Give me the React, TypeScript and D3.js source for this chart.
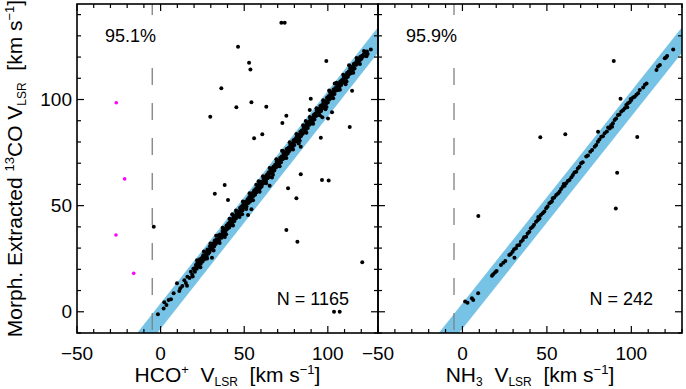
import React from "react";
import * as d3 from "d3";

type Pt = [number, number];

// HCO+ panel: sources following the 1:1 relation
const hcoLine: Pt[] = [
  [-1.6, -1.2], [1.8, 1.6], [2.2, 4.5], [3.5, 3.2], [4.8, 5.6], [6.2, 5.9], [7.8, 8.7], [9.8, 13.4],
  [11.2, 9.8], [11.8, 11.1], [13.0, 12.1], [14.2, 14.8], [15.1, 13.6], [15.8, 12.3], [16.0, 16.5],
  [17.3, 15.9], [18.1, 18.8], [18.9, 17.4], [19.6, 20.3], [20.0, 20.4], [20.5, 18.9], [21.1, 22.0],
  [21.6, 20.3], [22.0, 23.1], [22.6, 21.5], [23.1, 22.4], [23.5, 24.8], [24.0, 22.6], [24.6, 25.3],
  [25.1, 23.7], [25.5, 26.6], [26.0, 25.1], [26.6, 24.9], [27.1, 28.0], [27.5, 26.2], [28.0, 29.3],
  [28.6, 27.4], [29.1, 28.0], [29.5, 30.9], [30.0, 29.2], [30.4, 31.6], [31.0, 29.5], [31.5, 32.3],
  [32.0, 30.8], [32.4, 33.6], [33.0, 31.9], [33.5, 34.2], [34.0, 33.1], [34.4, 35.9], [35.0, 33.6],
  [35.5, 36.4], [36.0, 35.2], [36.5, 34.9], [37.0, 38.1], [37.4, 36.3], [38.0, 39.2], [38.5, 37.0],
  [39.0, 38.4], [39.4, 40.7], [40.0, 39.1], [40.5, 41.6], [41.0, 39.7], [41.5, 42.3], [42.0, 40.8],
  [42.4, 43.5], [43.0, 42.2], [43.5, 44.6], [44.0, 42.7], [44.5, 45.4], [45.0, 43.9], [45.4, 46.8],
  [46.0, 45.0], [46.5, 47.2], [47.0, 45.6], [47.5, 48.9], [48.0, 47.1], [48.4, 49.6], [49.0, 47.8],
  [49.5, 50.7], [50.0, 49.2], [50.5, 51.8], [51.0, 50.1], [51.4, 49.6], [52.0, 53.0], [52.5, 51.2],
  [53.0, 54.1], [53.5, 52.0], [54.0, 55.3], [54.4, 53.1], [55.0, 56.0], [55.5, 54.6], [56.0, 57.2],
  [56.5, 55.1], [57.0, 58.0], [57.4, 56.3], [58.0, 59.4], [58.5, 57.2], [59.0, 60.1], [59.5, 58.3],
  [60.0, 61.2], [60.4, 59.0], [61.0, 60.3], [61.5, 62.7], [62.0, 60.8], [62.5, 63.5], [63.0, 61.6],
  [63.4, 64.4], [64.0, 62.9], [64.5, 65.6], [65.0, 63.5], [65.5, 66.2], [66.0, 65.1], [66.4, 67.5],
  [67.0, 65.8], [67.5, 68.4], [68.0, 66.6], [68.5, 69.3], [69.0, 68.0], [69.4, 70.6], [70.0, 68.7],
  [70.5, 71.3], [71.0, 69.9], [71.5, 72.6], [72.0, 70.4], [72.4, 73.2], [73.0, 71.8], [73.5, 74.6],
  [74.0, 72.5], [74.5, 75.2], [75.0, 74.0], [75.4, 76.7], [76.0, 74.6], [76.5, 77.3], [77.0, 75.8],
  [77.5, 78.6], [78.0, 76.7], [78.4, 79.3], [79.0, 77.9], [79.5, 80.8], [80.0, 78.6], [80.5, 81.4],
  [81.0, 80.2], [81.4, 82.6], [82.0, 80.5], [82.5, 83.3], [83.0, 82.1], [83.5, 84.7], [84.0, 82.8],
  [84.4, 85.4], [85.0, 83.9], [85.5, 86.6], [86.0, 84.7], [86.5, 87.5], [87.0, 86.0], [87.4, 88.7],
  [88.0, 86.6], [88.5, 89.4], [89.0, 88.1], [89.5, 90.8], [90.0, 88.7], [90.4, 91.3], [91.0, 90.0],
  [91.5, 92.7], [92.0, 90.6], [92.5, 93.4], [93.0, 92.2], [93.4, 94.8], [94.0, 92.7], [94.5, 95.5],
  [95.0, 94.1], [95.5, 96.9], [96.0, 94.6], [96.5, 97.4], [97.0, 96.0], [97.4, 98.6], [98.0, 96.7],
  [98.5, 99.3], [99.0, 98.1], [99.5, 100.8], [100.0, 98.6], [100.4, 101.5], [101.0, 100.0],
  [101.5, 102.6], [102.0, 100.8], [102.5, 103.3], [103.0, 102.1], [103.4, 104.7], [104.0, 102.6],
  [104.5, 105.4], [105.0, 104.2], [105.5, 106.8], [106.0, 104.5], [106.5, 107.3], [107.0, 106.0],
  [107.4, 108.5], [108.0, 106.8], [108.5, 109.2], [109.0, 108.1], [109.5, 110.6], [110.0, 108.5],
  [110.4, 111.3], [111.0, 110.1], [111.5, 112.5], [112.0, 110.7], [112.5, 113.2], [113.0, 112.0],
  [113.4, 114.6], [114.0, 112.5], [114.5, 115.3], [115.0, 114.1], [115.5, 116.7], [116.0, 114.6],
  [116.5, 117.2], [117.0, 116.4], [117.4, 118.5], [118.0, 117.1], [118.5, 119.3], [119.0, 118.4],
  [119.5, 120.2], [120.0, 119.1], [120.5, 120.6], [121.0, 120.3], [121.5, 121.2], [122.0, 120.9],
  [125.7, 123.6], [40.3, 52.7], [52.3, 45.6], [54.3, 48.3], [65.2, 59.4], [96.7, 91.6], [100.1, 91.1],
  [102.5, 94.0], [89.2, 95.1], [104.1, 107.6], [30.7, 25.5]
];

// HCO+ panel: the wider spread of the same relation
const hcoSpread: Pt[] = [
  [19.2, 16.6], [21.8, 24.3], [23.8, 21.0], [25.9, 28.4], [27.8, 25.1], [29.8, 32.2], [31.7, 28.9],
  [33.2, 35.8], [35.3, 32.4], [37.1, 39.6], [39.2, 36.5], [41.2, 43.8], [43.3, 40.7], [45.1, 47.7],
  [47.2, 44.6], [49.2, 51.9], [51.2, 48.4], [53.2, 55.8], [55.3, 52.6], [57.2, 59.9], [59.2, 56.5],
  [61.2, 63.8], [63.1, 60.6], [65.2, 67.7], [67.2, 64.5], [69.2, 71.8], [71.2, 68.6], [73.2, 75.7],
  [75.2, 72.4], [77.2, 79.9], [79.2, 76.5], [81.2, 83.8], [83.2, 80.6], [85.2, 87.9], [87.2, 84.4],
  [89.2, 91.8], [91.2, 88.6], [93.2, 95.9], [95.2, 92.6], [97.2, 99.7], [99.2, 96.5], [101.2, 103.8],
  [103.2, 100.6], [105.2, 107.9], [107.2, 104.6], [109.2, 111.7], [111.2, 108.5], [113.2, 115.8],
  [115.2, 112.6], [117.2, 119.6], [119.2, 116.7], [121.6, 122.9], [122.6, 121.8], [123.1, 120.4],
  [42.8, 46.0], [58.6, 61.5], [72.6, 75.9], [86.8, 89.9], [100.8, 104.2], [112.7, 116.1],
  [48.8, 45.9], [66.6, 63.3], [82.6, 79.3], [98.6, 95.4], [110.6, 107.2], [38.4, 35.2]
];

// HCO+ panel: the crowded core of the relation
const hcoCore: Pt[] = [
  [20.3, 20.0], [21.3, 21.1], [22.3, 21.8], [23.3, 23.6], [24.3, 23.9], [25.3, 25.0], [26.3, 26.4],
  [27.3, 26.8], [28.3, 28.2], [29.3, 29.5], [30.3, 29.9], [31.3, 31.0], [32.2, 32.4], [33.3, 32.8],
  [34.3, 34.1], [35.3, 35.4], [36.3, 35.8], [37.3, 37.2], [38.3, 38.3], [39.3, 38.9], [40.3, 40.2],
  [41.3, 41.4], [42.3, 41.7], [43.3, 43.1], [44.3, 44.3], [45.3, 44.8], [46.3, 46.2], [47.3, 47.4],
  [48.3, 47.7], [49.3, 49.1], [50.3, 50.4], [51.3, 50.8], [52.3, 52.2], [53.3, 53.3], [54.3, 53.8],
  [55.3, 55.2], [56.3, 56.4], [57.3, 56.8], [58.3, 58.1], [59.3, 59.3], [60.3, 59.8], [61.3, 61.2],
  [62.3, 62.4], [63.3, 62.7], [64.3, 64.2], [65.3, 65.3], [66.3, 65.8], [67.3, 67.1], [68.3, 68.4],
  [69.3, 68.8], [70.3, 70.2], [71.3, 71.3], [72.3, 71.7], [73.3, 73.2], [74.3, 74.4], [75.3, 74.8],
  [76.3, 76.1], [77.3, 77.3], [78.3, 77.8], [79.3, 79.2], [80.3, 80.4], [81.3, 80.7], [82.3, 82.1],
  [83.3, 83.4], [84.3, 83.8], [85.3, 85.2], [86.3, 86.3], [87.3, 86.7], [88.3, 88.2], [89.3, 89.4],
  [90.3, 89.8], [91.3, 91.1], [92.3, 92.3], [93.3, 92.8], [94.3, 94.2], [95.3, 95.4], [96.3, 95.7],
  [97.3, 97.1], [98.3, 98.3], [99.3, 98.8], [100.3, 100.2], [101.3, 101.4], [102.3, 101.7],
  [103.3, 103.1], [104.3, 104.3], [105.3, 104.8], [106.3, 106.2], [107.3, 107.3], [108.3, 107.7],
  [109.3, 109.1], [110.3, 110.4], [111.3, 110.8], [112.3, 112.2], [113.3, 113.3], [114.3, 113.7],
  [115.3, 115.1], [116.3, 116.4], [117.3, 116.8], [118.3, 118.2], [119.3, 119.3], [120.3, 119.7],
  [121.3, 121.0], [122.4, 122.1], [123.4, 122.6], [123.8, 121.4]
];

// HCO+ panel: sources off the relation
const hcoOff: Pt[] = [
  [36.3, 105.3], [29.7, 91.9], [72.2, 136.2], [74.2, 136.2], [46.3, 124.9], [52.9, 117.3],
  [53.7, 114.2], [99.1, 118.1], [89.8, 100.4], [114.5, 104.1], [45.3, 96.3], [54.3, 98.7],
  [63.2, 96.6], [75.2, 92.4], [72.8, 88.9], [55.9, 81.7], [60.8, 83.6], [83.8, 77.8], [95.8, 82.0],
  [113.1, 87.0], [-4.1, 40.1], [38.3, 59.7], [32.4, 55.6], [83.8, 64.8], [96.5, 62.1],
  [100.5, 61.8], [76.2, 58.2], [81.2, 53.5], [75.2, 38.5], [81.8, 33.0], [120.6, 23.3],
  [103.7, 0], [107.1, 0]
];

const hcoMagenta: Pt[] = [[-26.5, 98.5], [-21.5, 62.6], [-26.7, 36.2], [-16.1, 18.1]];

// NH3 panel
const nh3Line: Pt[] = [
  [1.6, 4.8], [3.0, 4.2], [5.6, 6.4], [6.4, 5.6], [9.3, 8.7], [17.5, 17.0], [18.2, 17.7],
  [19.4, 18.6], [20.2, 19.2], [22.8, 22.0], [24.2, 23.1], [25.4, 23.9], [27.7, 26.8], [28.6, 27.2],
  [29.7, 28.3], [30.6, 29.4], [31.7, 29.9], [32.5, 31.2], [33.7, 31.5], [34.6, 33.0], [35.7, 33.8],
  [36.5, 35.1], [37.7, 35.4], [38.6, 36.9], [39.6, 37.7], [40.5, 39.4], [41.6, 40.1], [42.4, 41.0],
  [43.6, 42.4], [44.5, 43.1], [45.6, 44.0], [46.4, 45.6], [47.5, 46.4], [48.5, 47.3], [49.6, 48.8],
  [50.4, 49.6], [51.5, 51.1], [52.4, 51.6], [53.5, 53.5], [54.4, 53.8], [55.5, 55.0], [56.6, 55.7],
  [57.5, 56.6], [58.4, 57.9], [59.4, 58.9], [60.5, 59.4], [61.4, 60.5], [62.4, 61.6], [63.4, 62.1],
  [64.5, 63.4], [65.4, 64.4], [66.3, 65.6], [67.4, 66.0], [68.3, 67.5], [69.3, 68.3], [70.3, 70.0],
  [71.2, 70.4], [73.3, 73.1], [74.3, 73.6], [75.7, 75.4], [76.8, 76.2], [78.3, 77.8], [79.2, 78.6],
  [80.2, 80.1], [81.1, 81.2], [82.2, 82.5], [83.2, 82.7], [84.2, 84.1], [85.5, 84.9], [87.2, 86.4],
  [88.1, 87.9], [89.1, 88.8], [90.1, 90.3], [91.0, 91.0], [92.1, 92.7], [93.0, 92.9], [94.1, 94.3],
  [95.1, 95.0], [96.1, 95.9], [97.0, 97.4], [98.0, 98.2], [99.0, 98.7], [100.0, 99.8],
  [101.0, 100.9], [102.0, 101.3], [103.0, 102.3], [104.0, 102.9], [105.0, 104.5], [107.0, 105.7],
  [108.0, 106.9], [109.0, 107.6], [114.9, 113.9], [115.8, 115.5], [116.9, 116.3], [119.8, 119.4],
  [120.5, 119.8], [121.2, 120.5], [124.8, 123.6], [30.8, 25.5], [80.3, 84.8],
  [44.9, 44.6], [53.0, 52.1], [60.0, 60.2], [86.3, 86.8], [88.6, 87.2], [97.6, 96.4], [99.6, 100.3]
];

const nh3Off: Pt[] = [
  [89.6, 118.1], [93.6, 100.4], [46.1, 82.2], [60.9, 83.6], [103.5, 82.3], [9.4, 45.1],
  [91.6, 65.5], [90.8, 48.7]
];

const xDomain: [number, number] = [-50, 130];
const yDomain: [number, number] = [-10, 145];
const bandOffset = -2;
const bandHalf = 6;
const cutVel = -5;

const FONT = "'Liberation Sans', Arial, Helvetica, sans-serif";
const BAND = "#77c3e6";
const TOP = 4;
const BOTTOM = 333;

const y = d3.scaleLinear().domain(yDomain).range([BOTTOM, TOP]);

interface PanelProps {
  id: string;
  x0: number;
  x1: number;
  line: Pt[];
  off: Pt[];
  magenta: Pt[];
  pct: string;
  count: string;
  leftLabels: boolean;
}

const Panel = ({ id, x0, x1, line, off, magenta, pct, count, leftLabels }: PanelProps) => {
  const x = d3.scaleLinear().domain(xDomain).range([x0, x1]);
  const band: Pt[] = [
    [xDomain[0], xDomain[0] + bandOffset - bandHalf],
    [xDomain[1], xDomain[1] + bandOffset - bandHalf],
    [xDomain[1], xDomain[1] + bandOffset + bandHalf],
    [xDomain[0], xDomain[0] + bandOffset + bandHalf]
  ];
  const bandPath = d3.line<Pt>().x(d => x(d[0])).y(d => y(d[1]))(band) + "Z";
  const xMajor = x.ticks(4);
  const xMinor = x.ticks(18).filter(t => !xMajor.includes(t));
  const yMajor = y.ticks(3);
  const yMinor = y.ticks(15).filter(t => !yMajor.includes(t));
  const maj = 7, min = 4;
  const dx = x(cutVel);

  return (
    <g>
      <defs>
        <clipPath id={id}>
          <rect x={x0} y={TOP} width={x1 - x0} height={BOTTOM - TOP} />
        </clipPath>
      </defs>
      <path d={bandPath} fill={BAND} clipPath={`url(#${id})`} />
      <line x1={dx} x2={dx} y1={TOP} y2={BOTTOM} stroke="#808080" strokeWidth={1.3}
        strokeDasharray="17 18" strokeDashoffset={6} />
      <rect x={x0 + 26} y={24} width={56} height={28} fill="#fff" />
      <text x={x0 + 28} y={42} fontSize={18}>{pct}</text>
      {line.concat(off).map((d, i) => (
        <circle key={i} cx={x(d[0])} cy={y(d[1])} r={2} fill="#000" />
      ))}
      {magenta.map((d, i) => (
        <circle key={"m" + i} cx={x(d[0])} cy={y(d[1])} r={1.8} fill="#f0f" />
      ))}
      <text x={x1 - 29} y={305} fontSize={18} textAnchor="end">{count}</text>
      <rect x={x0} y={TOP} width={x1 - x0} height={BOTTOM - TOP} fill="none" stroke="#000" strokeWidth={1.6} />
      {xMajor.concat(xMinor).map((t, i) => {
        const l = xMajor.includes(t) ? maj : min;
        return (
          <g key={"x" + i} stroke="#000" strokeWidth={1.2}>
            <line x1={x(t)} x2={x(t)} y1={BOTTOM} y2={BOTTOM - l} />
            <line x1={x(t)} x2={x(t)} y1={TOP} y2={TOP + l} />
          </g>
        );
      })}
      {yMajor.concat(yMinor).map((t, i) => {
        const l = yMajor.includes(t) ? maj : min;
        return (
          <g key={"y" + i} stroke="#000" strokeWidth={1.2}>
            <line x1={x0} x2={x0 + l} y1={y(t)} y2={y(t)} />
            <line x1={x1} x2={x1 - l} y1={y(t)} y2={y(t)} />
          </g>
        );
      })}
      {xMajor.map(t => (
        <text key={"xl" + t} x={x(t)} y={360} fontSize={19} textAnchor="middle">
          {t < 0 ? "\u2212" + Math.abs(t) : t}
        </text>
      ))}
      {leftLabels && yMajor.map(t => (
        <text key={"yl" + t} x={x0 - 5} y={y(t)} dy="0.35em" fontSize={19} textAnchor="end">{t}</text>
      ))}
    </g>
  );
};

export default function App() {
  return (
    <svg width={686} height={389} style={{ position: "absolute", left: 0, top: 0, background: "#fff" }}
      fontFamily={FONT}>
      <Panel id="cl" x0={77} x1={378} line={hcoLine.concat(hcoSpread, hcoCore)} off={hcoOff}
        magenta={hcoMagenta} pct="95.1%" count="N = 1165" leftLabels={true} />
      <Panel id="cr" x0={378} x1={682} line={nh3Line} off={nh3Off} magenta={[]}
        pct="95.9%" count="N = 242" leftLabels={false} />

      <text x={227.5} y={382} fontSize={21} textAnchor="middle" style={{ whiteSpace: "pre" }}>
        <tspan>HCO</tspan>
        <tspan fontSize={13} dy={-8}>+</tspan>
        <tspan dy={8}>{"  V"}</tspan>
        <tspan fontSize={12} dy={4}>LSR</tspan>
        <tspan dy={-4}>{"  [km s"}</tspan>
        <tspan fontSize={13} dy={-8}>{"\u22121"}</tspan>
        <tspan dy={8}>]</tspan>
      </text>
      <text x={530} y={382} fontSize={21} textAnchor="middle" style={{ whiteSpace: "pre" }}>
        <tspan>NH</tspan>
        <tspan fontSize={12} dy={4}>3</tspan>
        <tspan dy={-4}>{"  V"}</tspan>
        <tspan fontSize={12} dy={4}>LSR</tspan>
        <tspan dy={-4}>{"  [km s"}</tspan>
        <tspan fontSize={13} dy={-8}>{"\u22121"}</tspan>
        <tspan dy={8}>]</tspan>
      </text>
      <text transform="translate(22,168.5) rotate(-90)" fontSize={21} textAnchor="middle"
        style={{ whiteSpace: "pre" }}>
        <tspan>{"Morph. Extracted "}</tspan>
        <tspan fontSize={13} dy={-8}>13</tspan>
        <tspan dy={8}>{"CO V"}</tspan>
        <tspan fontSize={12} dy={4}>LSR</tspan>
        <tspan dy={-4}>{"  [km s"}</tspan>
        <tspan fontSize={13} dy={-8}>{"\u22121"}</tspan>
        <tspan dy={8}>]</tspan>
      </text>
    </svg>
  );
}
